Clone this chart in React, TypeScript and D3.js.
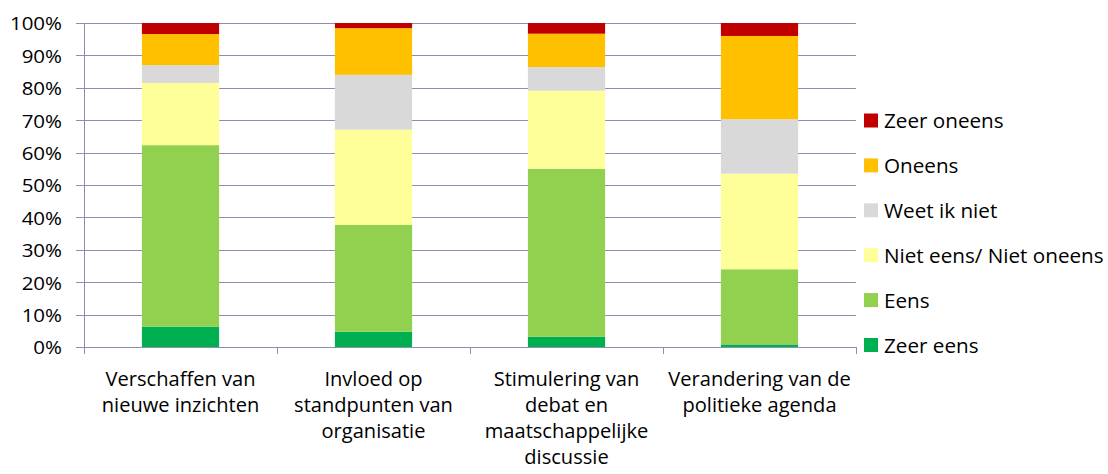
import React from "react";
import * as d3 from "d3";

const categories = [
  ["Verschaffen van", "nieuwe inzichten"],
  ["Invloed op", "standpunten van", "organisatie"],
  ["Stimulering van", "debat en", "maatschappelijke", "discussie"],
  ["Verandering van de", "politieke agenda"],
];
const seriesNames = ["Zeer eens", "Eens", "Niet eens/ Niet oneens", "Weet ik niet", "Oneens", "Zeer oneens"];
const seriesColors = ["#00B050", "#92D050", "#FFFF99", "#D9D9D9", "#FFC000", "#C00000"];
const zeerEens = [6.3, 4.7, 3.2, 0.8];
const eens = [56.0, 33.0, 51.8, 23.2];
const nietEens = [19.2, 29.4, 24.1, 29.5];
const weetNiet = [5.5, 16.9, 7.3, 16.8];
const oneens = [9.6, 14.4, 10.3, 25.7];
const zeerOneens = [3.4, 1.6, 3.3, 4.0];
const yTicks = [0, 10, 20, 30, 40, 50, 60, 70, 80, 90, 100];

const FONT = "'Open Sans', Lato, sans-serif";

export default function App() {
  const W = 1108, H = 474;
  const left = 84, right = 856, top = 23, bottom = 347;
  const series = [zeerEens, eens, nietEens, weetNiet, oneens, zeerOneens];
  const x = d3.scaleBand<number>().domain(d3.range(categories.length)).range([left, right]).padding(0);
  const y = d3.scaleLinear().domain([0, 100]).range([bottom, top]);
  const barW = x.bandwidth() * 0.4;
  const rows = categories.map((_, i) => {
    const o: any = { i };
    seriesNames.forEach((s, k) => (o[s] = series[k][i]));
    return o;
  });
  const stack = d3.stack<any>().keys(seriesNames)(rows);
  const gridColor = "#8E8FB0";
  const legendY = d3.scalePoint<string>().domain([...seriesNames].reverse()).range([120.5, 345]);
  return (
    <svg width={W} height={H} style={{ position: "absolute", left: 0, top: 0 }}>
      <rect width={W} height={H} fill="#fff" />
      {yTicks.map((t) => (
        <g key={t}>
          <line x1={left - 8} x2={right} y1={Math.round(y(t)) + 0.5} y2={Math.round(y(t)) + 0.5} stroke={gridColor} strokeWidth={1} />
          <text transform={`translate(62,${y(t) + 7.3}) scale(1.12,1)`} textAnchor="end" fontFamily={FONT} fontSize={18.3} fill="#000">{t}%</text>
        </g>
      ))}
      {stack.map((layer, k) => (
        <g key={k}>
          {layer.map((d, i) => (
            <rect key={i} x={(x(i) as number) + x.bandwidth() / 2 - barW / 2} y={y(d[1])} width={barW} height={y(d[0]) - y(d[1])} fill={seriesColors[k]} />
          ))}
        </g>
      ))}
      <line x1={left + 0.5} x2={left + 0.5} y1={top} y2={bottom} stroke={gridColor} />
      {d3.range(categories.length + 1).map((i) => {
        const xx = Math.round(left + x.step() * i) + 0.5;
        return <line key={i} x1={xx} x2={xx} y1={bottom} y2={bottom + 7} stroke={gridColor} />;
      })}
      {categories.map((lines, i) => (
        <g key={i}>
          {lines.map((l, j) => (
            <text key={j} transform={`translate(${(x(i) as number) + x.bandwidth() / 2},${385.5 + j * 26}) scale(1.03,1)`} textAnchor="middle" fontFamily={FONT} fontSize={19.5} fill="#000">{l}</text>
          ))}
        </g>
      ))}
      {[...seriesNames].reverse().map((s) => {
        const k = seriesNames.indexOf(s);
        const cy = legendY(s) as number;
        return (
          <g key={s}>
            <rect x={864} y={cy - 7} width={14} height={14} fill={seriesColors[k]} />
            <text transform={`translate(884,${cy + 7.5}) scale(1.06,1)`} fontFamily={FONT} fontSize={19.5} fill="#000">{s}</text>
          </g>
        );
      })}
    </svg>
  );
}
